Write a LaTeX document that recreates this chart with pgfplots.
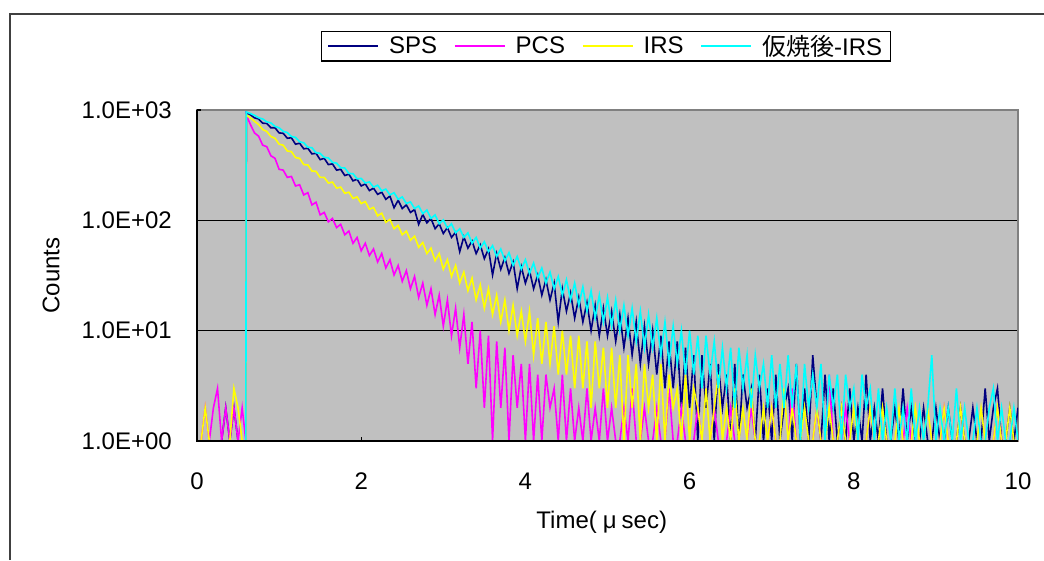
\documentclass[border=0pt]{standalone}
\usepackage{pgfplots}
\pgfplotsset{compat=1.18}
\usepackage{pgfplotstable}
\usepackage{fontspec}
\setmainfont{Liberation Sans}
\newfontfamily\cjk{Noto Sans CJK JP}
\definecolor{silverbg}{HTML}{C0C0C0}
\definecolor{frameg}{HTML}{404040}
\definecolor{plotborder}{HTML}{808080}
\definecolor{cNavy}{HTML}{000080}
\definecolor{cMag}{HTML}{FF00FF}
\definecolor{cYel}{HTML}{FFFF00}
\definecolor{cCyan}{HTML}{00FFFF}

\pgfplotstableread{
t sps pcs irs cal
0.00 1 1 1 1
0.05 1 1 1 1
0.10 1 2 2 1
0.15 1 1 1 1
0.20 1 2 1 1
0.25 1 3 1 1
0.30 1 1 1 1
0.35 2 2 1 1
0.40 1 1 1 1
0.45 2 2 3 1
0.50 1 1 2 1
0.55 1 2 1 1
0.595 1 1 1 1
0.60 950 900 900 960
0.65 905 740 850 930
0.70 850 620 790 895
0.75 830 580 740 850
0.80 760 480 665 830
0.85 755 465 640 780
0.90 690 385 575 765
0.95 690 365 555 710
1.00 620 290 490 690
1.05 615 285 480 640
1.10 555 245 425 625
1.15 560 250 420 575
1.20 490 205 370 565
1.25 500 210 365 515
1.30 445 170 320 505
1.35 450 178 318 460
1.40 400 138 280 455
1.45 405 146 278 410
1.50 355 112 245 405
1.55 365 118 245 372
1.60 320 97 218 368
1.65 325 104 222 335
1.70 285 86 196 330
1.75 290 92 200 300
1.80 255 74 176 298
1.85 262 80 180 266
1.90 228 62 158 265
1.95 236 70 163 238
2.00 205 53 142 240
2.05 214 62 148 218
2.10 186 48 126 223
2.15 196 55 131 200
2.20 172 42 110 208
2.25 180 50 116 185
2.30 155 37 96 192
2.35 166 44 102 170
2.40 130 32 84 178
2.45 152 39 90 155
2.50 128 28 74 163
2.55 138 35 80 142
2.60 118 24 66 147
2.65 125 31 72 128
2.70 92 20 57 135
2.75 113 27 63 115
2.80 95 17 50 124
2.85 104 24 56 104
2.90 84 14 43 112
2.95 93 21 50 93
3.00 76 11 36 101
3.05 86 19 44 85
3.10 70 9 31 93
3.15 78 16 39 77
3.20 52 7 27 84
3.25 71 14 34 70
3.30 56 5 23 77
3.35 65 12 30 62
3.40 50 3 19 70
3.45 60 10 26 56
3.50 45 2 16 64
3.55 55 9 24 52
3.60 32 1 14 59
3.65 50 8 21 47
3.70 36 2 12 55
3.75 46 7 19 43
3.80 33 1 10 51
3.85 42 6 17 39
3.90 24 2 9 47
3.95 38 5 15 36
4.00 27 1 8 44
4.05 35 5 15 33
4.10 24 1 6 41
4.15 32 4 13 30
4.20 21 1 5 37
4.25 29 4 12 27
4.30 19 2 5 34
4.35 27 3 11 24
4.40 12 1 4 31
4.45 24 4 10 21
4.50 15 1 4 29
4.55 22 3 9 19
4.60 13 1 3 27
4.65 20 2 9 17
4.70 12 1 3 25
4.75 18 3 8 15
4.80 10 1 2 23
4.85 17 2 8 13
4.90 9 1 3 21
4.95 16 3 7 12
5.00 9 1 2 20
5.05 15 2 7 11
5.10 8 1 2 19
5.15 14 1 6 10
5.20 7 2 1 17
5.25 13 1 6 9
5.30 6 3 2 16
5.35 12 1 5 8
5.40 5 1 1 15
5.45 11 2 5 7
5.50 5 1 2 14
5.55 10 1 4 7
5.60 4 2 1 13
5.65 9 1 5 6
5.70 3 1 1 12
5.75 8 3 4 5
5.80 3 1 2 11
5.85 8 1 3 5
5.90 2 2 1 10
5.95 7 1 4 4
6.00 2 1 1 10
6.05 6 1 3 4
6.10 1 2 2 9
6.15 6 1 1 3
6.20 2 1 3 9
6.25 5 1 1 4
6.30 1 2 2 8
6.35 5 1 4 3
6.40 2 1 1 7
6.45 4 1 2 3
6.50 1 2 1 7
6.55 5 1 3 2
6.60 1 1 1 7
6.65 4 1 2 3
6.70 2 1 1 6
6.75 3 2 3 2
6.80 1 1 1 6
6.85 4 1 1 3
6.90 1 1 2 5
6.95 3 1 1 2
7.00 1 2 2 6
7.05 4 1 1 2
7.10 1 1 1 5
7.15 2 1 3 2
7.20 3 1 1 6
7.25 1 3 2 2
7.30 5 1 1 5
7.35 1 1 1 1
7.40 3 1 2 5
7.45 1 1 1 2
7.50 6 1 1 4
7.55 2 2 2 2
7.60 1 1 1 5
7.65 4 1 1 1
7.70 1 4 2 4
7.75 3 1 1 2
7.80 1 1 1 4
7.85 2 1 2 1
7.90 1 2 1 4
7.95 3 1 1 2
8.00 1 1 2 3
8.05 2 1 1 1
8.10 1 1 1 4
8.15 4 1 1 2
8.20 1 2 2 3
8.25 2 1 1 1
8.30 1 1 1 3
8.35 3 1 2 1
8.40 1 1 1 2
8.45 1 1 1 1
8.50 2 1 1 3
8.55 1 1 2 1
8.60 3 1 1 2
8.65 1 2 1 1
8.70 2 1 1 3
8.75 1 1 2 1
8.80 1 1 1 2
8.85 2 1 1 1
8.90 1 1 2 2
8.95 1 1 1 6
9.00 2 1 1 1
9.05 1 1 1 2
9.10 1 2 2 1
9.15 2 1 1 2
9.20 1 1 1 1
9.25 1 1 1 3
9.30 2 1 2 1
9.35 1 1 1 2
9.40 1 1 1 1
9.45 2 1 1 1
9.50 1 1 1 2
9.55 1 1 2 1
9.60 3 1 1 1
9.65 1 1 1 2
9.70 2 1 1 3
9.75 3 2 2 1
9.80 1 1 1 2
9.85 1 1 1 1
9.90 2 1 2 1
9.95 1 1 1 2
10.00 2 1 1 1
}\decaydata

\begin{document}
\begin{tikzpicture}
\useasboundingbox (0pt,0pt) rectangle (1044pt,-560pt);
\fill[white] (0pt,0pt) rectangle (1044pt,-560pt);
\draw[frameg, line width=2.5pt] (10pt,-560pt) -- (10pt,-14pt) -- (1044pt,-14pt);
\begin{axis}[
  at={(197pt,-441pt)}, anchor=south west,
  scale only axis, width=821pt, height=331pt,
  xmin=0, xmax=10, ymode=log, ymin=1, ymax=1000,
  xtick={0,2,4,6,8,10},
  ytick={1,10,100}, yticklabels={1.0E+00,1.0E+01,1.0E+02},
  extra y ticks={1000}, extra y tick labels={1.0E+03},
  extra y tick style={grid=none},
  yminorticks=false, xminorticks=false,
  tick pos=left, tick align=inside, major tick length=4pt,
  tick style={black, line width=1.2pt},
  ymajorgrids, grid style={black, line width=1.6pt},
  axis background/.style={fill=silverbg},
  axis line style={draw=plotborder, line width=1.5pt},
  /pgf/number format/assume math mode=true,
  tick label style={font=\fontsize{24}{28}\selectfont, inner sep=0pt},
  xticklabel style={anchor=center, yshift=-40pt},
  yticklabel style={anchor=east, xshift=-25pt},
  xlabel={Time(\hspace{6pt}μ\hspace{5pt}sec)},
  ylabel={Counts},
  label style={font=\fontsize{24}{28}\selectfont, inner sep=0pt},
  xlabel style={at={(axis description cs:0.493,0)}, anchor=center, yshift=-81pt},
  ylabel style={at={(axis description cs:0,0.5)}, anchor=center, yshift=146pt},
  legend columns=4,
  legend style={at={(0.498,1.193)}, anchor=center, draw=black, line width=1.5pt,
    fill=white, font=\fontsize{24}{28}\selectfont, inner xsep=6pt, inner ysep=2pt,
    /tikz/every odd column/.append style={column sep=8pt},
    /tikz/every even column/.append style={column sep=15pt}},
  legend image code/.code={\draw[#1] (0pt,0pt) -- (50pt,0pt);},
  every axis plot/.append style={line width=1.6pt, mark=none},
  after end axis/.code={\draw[black, line width=2pt] (rel axis cs:0,1) -- (rel axis cs:0,0) -- (rel axis cs:1,0);},
]
\addplot[cNavy] table[x=t, y=sps] {\decaydata};
\addlegendentry{SPS}
\addplot[cMag] table[x=t, y=pcs] {\decaydata};
\addlegendentry{PCS}
\addplot[cYel] table[x=t, y=irs] {\decaydata};
\addlegendentry{IRS}
\addplot[cCyan] table[x=t, y=cal] {\decaydata};
\addlegendentry{{\cjk 仮焼後}-IRS}
\end{axis}
\end{tikzpicture}
\end{document}
